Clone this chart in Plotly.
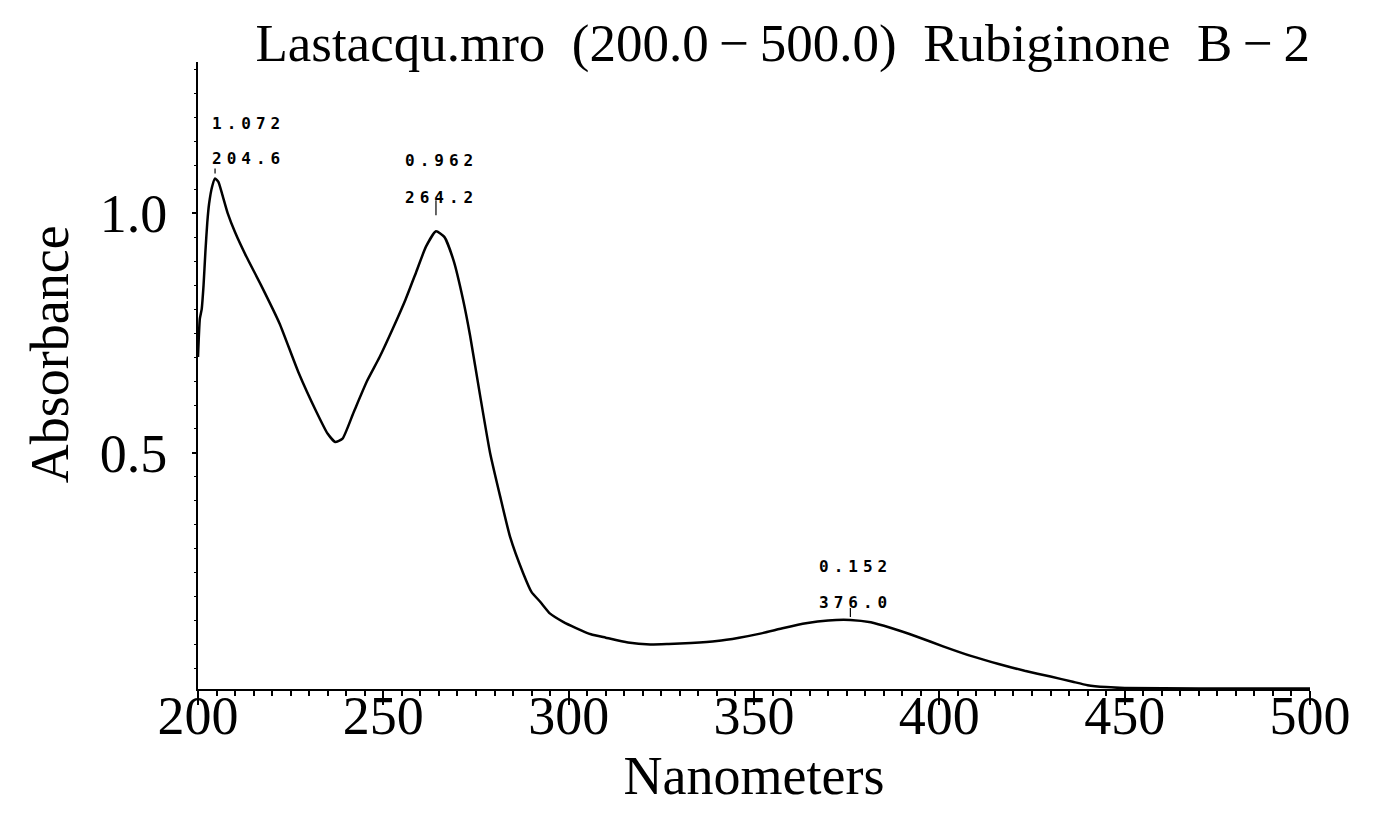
import plotly.graph_objects as go

# Spectrum (nm, absorbance)
wavelength = [200.0, 200.5, 201.0, 201.5, 202.0, 202.5, 203.0, 203.8, 204.6, 205.5,
              206.5, 208.0, 210.0, 213.0, 217.0, 222.0, 227.0, 232.0, 235.0, 237.0,
              239.0, 242.0, 245.6, 249.0, 252.6, 256.0, 259.0, 261.5, 264.2, 266.5,
              269.0, 271.5, 273.4, 276.1, 278.8, 281.5, 284.2, 287.7, 290.0, 292.3,
              295.0, 298.5, 302.0, 306.0, 310.0, 316.0, 322.0, 327.0, 333.0, 340.0,
              346.0, 352.0, 358.0, 364.0, 370.0, 376.0, 381.5, 387.0, 394.0, 401.0,
              408.5, 416.0, 423.0, 430.0, 436.0, 440.0, 445.0, 450.0, 470.0, 500.0]
absorbance = [0.70, 0.78, 0.80, 0.85, 0.92, 0.98, 1.02, 1.055, 1.072, 1.065,
              1.04, 1.00, 0.96, 0.91, 0.85, 0.77, 0.67, 0.585, 0.54, 0.523,
              0.53, 0.585, 0.65, 0.70, 0.76, 0.82, 0.88, 0.93, 0.962, 0.95,
              0.90, 0.82, 0.745, 0.62, 0.50, 0.41, 0.325, 0.25, 0.21, 0.19,
              0.165, 0.148, 0.135, 0.122, 0.115, 0.105, 0.101, 0.102, 0.104, 0.108,
              0.115, 0.124, 0.135, 0.145, 0.151, 0.152, 0.147, 0.135, 0.117, 0.097,
              0.077, 0.060, 0.046, 0.034, 0.023, 0.016, 0.012, 0.010, 0.009, 0.009]

peak_nm = [204.6, 264.2, 376.0]
peak_abs = [1.072, 0.962, 0.152]
peak_nm_text = ["204.6", "264.2", "376.0"]
peak_abs_text = ["1.072", "0.962", "0.152"]

x_ticks = [200, 250, 300, 350, 400, 450, 500]
y_ticks = [0.5, 1.0]
y_tick_text = ["0.5", "1.0"]

title_text = "Lastacqu.mro\u00a0 (200.0\u2009\u2212\u2009500.0)\u00a0 Rubiginone\u00a0 B\u2009\u2212\u20092"
x_title = "Nanometers"
y_title = "Absorbance"

SERIF = "Liberation Serif"
MONO = "DejaVu Sans Mono"

fig = go.Figure()
fig.add_trace(go.Scatter(x=wavelength, y=absorbance, mode="lines",
                         line=dict(color="black", width=2.5, shape="spline", smoothing=0.5),
                         hoverinfo="skip", showlegend=False))

def spaced(t):
    return '<span style="letter-spacing:5px">' + t + '</span>'

# peak label layout: (abs label yshift, nm label yshift, tick from, tick to, xanchor, xshift)
label_cfg = [(55, 20, 5, 10, "left", -5), (71, 34, 16, 31, "center", 6), (53, 17, 3, 12, "center", 5)]
for pn, pa, nt, at, cfg in zip(peak_nm, peak_abs, peak_nm_text, peak_abs_text, label_cfg):
    sa, sn, t0, t1, xa, xs = cfg
    fig.add_annotation(x=pn, y=pa, text=spaced(at), showarrow=False, yshift=sa, xshift=xs,
                       xanchor=xa, yanchor="middle",
                       font=dict(family=MONO, size=16, color="black", weight="bold"))
    fig.add_annotation(x=pn, y=pa, text=spaced(nt), showarrow=False, yshift=sn, xshift=xs,
                       xanchor=xa, yanchor="middle",
                       font=dict(family=MONO, size=16, color="black", weight="bold"))
    fig.add_shape(type="line", xref="x", yref="y", x0=pn, x1=pn,
                  ysizemode="pixel", yanchor=pa, y0=t0, y1=t1,
                  line=dict(color="black", width=1.2))

# y-axis title (placed slightly above the plot centre, as in the reference)
fig.add_annotation(xref="paper", yref="paper", x=-0.133, y=0.534, text=y_title,
                   textangle=-90, showarrow=False, xanchor="center", yanchor="middle",
                   font=dict(family=SERIF, size=54, color="black"))

fig.update_layout(
    width=1384, height=819,
    paper_bgcolor="white", plot_bgcolor="white",
    margin=dict(l=190, r=82, t=54, b=138, autoexpand=False),
    title=dict(text=title_text, x=1.0, xanchor="right", xref="paper",
               y=0.958, yanchor="middle",
               font=dict(family=SERIF, size=53, color="black")),
    font=dict(family=SERIF, color="black"),
    xaxis=dict(range=[200, 500], tickvals=x_ticks, ticks="outside", ticklen=14,
               tickwidth=2, tickcolor="black", showline=True, linecolor="black",
               linewidth=2, showgrid=False, zeroline=False, automargin=False,
               ticklabelstandoff=-36,
               tickfont=dict(family=SERIF, size=54, color="black"),
               minor=dict(dtick=5, ticks="outside", ticklen=5, tickwidth=1.5,
                          tickcolor="black", showgrid=False),
               title=dict(text=x_title, standoff=0,
                          font=dict(family=SERIF, size=54, color="black"))),
    yaxis=dict(range=[0.008, 1.315], tickvals=y_ticks, ticktext=y_tick_text,
               ticks="outside", ticklen=4, tickwidth=1.5, tickcolor="black",
               showline=True, linecolor="black", linewidth=2, showgrid=False,
               zeroline=False, ticklabelstandoff=14, automargin=False,
               tickfont=dict(family=SERIF, size=54, color="black"),
               minor=dict(dtick=0.05, ticks="outside", ticklen=2, tickwidth=1,
                          tickcolor="black", showgrid=False)),
)

fig.write_html("out.html")
